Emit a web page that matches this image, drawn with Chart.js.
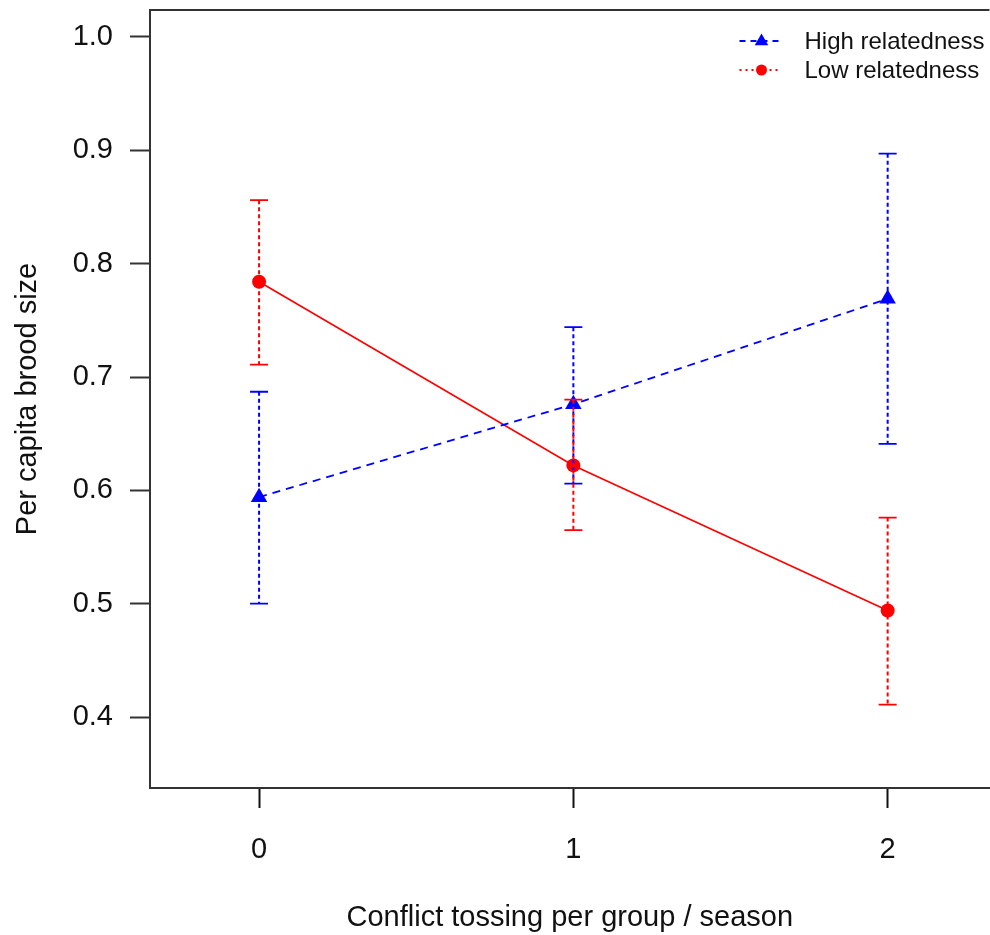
<!DOCTYPE html>
<html>
<head>
<meta charset="utf-8">
<script src="https://cdn.jsdelivr.net/npm/chart.js@4/dist/chart.umd.min.js"></script>
<style>
  html, body { margin: 0; padding: 0; background: #fff; overflow: hidden; }
  #wrap { width: 990px; height: 935px; position: relative; overflow: hidden; }
  #c { display: block; }
</style>
</head>
<body>
<div id="wrap"><canvas id="c" width="999" height="935"></canvas></div>
<script>
// ---- Data ----
const categories = [0, 1, 2];
const xTicks = [0, 1, 2];
const yTicks = [0.4, 0.5, 0.6, 0.7, 0.8, 0.9, 1.0];

const highMean  = [0.594, 0.676, 0.769];
const highLower = [0.500, 0.606, 0.641];
const highUpper = [0.687, 0.744, 0.897];

const lowMean  = [0.784, 0.622, 0.494];
const lowLower = [0.711, 0.565, 0.411];
const lowUpper = [0.856, 0.680, 0.576];

const seriesNames = ['High relatedness', 'Low relatedness'];
const xTitle = 'Conflict tossing per group / season';
const yTitle = 'Per capita brood size';

const BLUE = '#0000FF';
const RED = '#FF0000';
const FONT = '"Liberation Sans", Arial, sans-serif';

const toPts = (arr) => categories.map((c, i) => ({ x: c, y: arr[i] }));

const errorBars = [
  { lower: highLower, upper: highUpper, color: BLUE },
  { lower: lowLower, upper: lowUpper, color: RED }
];

const errorBarPlugin = {
  id: 'errorBars',
  afterDatasetsDraw(chart) {
    const { ctx, scales: { x, y } } = chart;
    ctx.save();
    errorBars.forEach(eb => {
      categories.forEach((c, i) => {
        const px = x.getPixelForValue(c);
        const pl = y.getPixelForValue(eb.lower[i]);
        const pu = y.getPixelForValue(eb.upper[i]);
        ctx.strokeStyle = eb.color;
        ctx.lineWidth = 2;
        ctx.setLineDash([4, 3]);
        ctx.beginPath();
        ctx.moveTo(px, pu);
        ctx.lineTo(px, pl);
        ctx.stroke();
        ctx.setLineDash([]);
        ctx.lineWidth = 1.8;
        ctx.beginPath();
        ctx.moveTo(px - 9, pu); ctx.lineTo(px + 9, pu);
        ctx.moveTo(px - 9, pl); ctx.lineTo(px + 9, pl);
        ctx.stroke();
      });
    });
    ctx.restore();
  }
};

const framePlugin = {
  id: 'frame',
  afterDraw(chart) {
    const { ctx, chartArea } = chart;
    ctx.save();
    ctx.strokeStyle = '#333';
    ctx.lineWidth = 2;
    ctx.beginPath();
    ctx.moveTo(chartArea.left, chartArea.top);
    ctx.lineTo(chartArea.right, chartArea.top);
    ctx.stroke();
    ctx.restore();
  }
};

const legendPlugin = {
  id: 'customLegend',
  afterDraw(chart) {
    const { ctx, chartArea } = chart;
    const ds = chart.data.datasets;
    const lx = chartArea.right - 250;
    const rows = [chartArea.top + 31, chartArea.top + 60];
    ctx.save();
    ds.forEach((d, i) => {
      const yy = rows[i];
      ctx.strokeStyle = d.borderColor;
      ctx.lineWidth = 2;
      ctx.setLineDash(i === 0 ? [6, 5] : [2, 4]);
      ctx.beginPath();
      ctx.moveTo(lx, yy); ctx.lineTo(lx + 42, yy);
      ctx.stroke();
      ctx.setLineDash([]);
      ctx.fillStyle = d.borderColor;
      ctx.beginPath();
      if (i === 0) {
        const r = 7.5;
        ctx.moveTo(lx + 22, yy - r);
        ctx.lineTo(lx + 22 + r * 0.9, yy + r * 0.55);
        ctx.lineTo(lx + 22 - r * 0.9, yy + r * 0.55);
        ctx.closePath();
      } else {
        ctx.arc(lx + 22, yy, 5.5, 0, Math.PI * 2);
      }
      ctx.fill();
      ctx.fillStyle = '#111';
      ctx.font = '24px ' + FONT;
      ctx.textBaseline = 'middle';
      ctx.textAlign = 'left';
      ctx.fillText(seriesNames[i], lx + 65, yy + 1);
    });
    ctx.restore();
  }
};

new Chart(document.getElementById('c'), {
  type: 'line',
  data: {
    datasets: [
      {
        label: seriesNames[0],
        data: toPts(highMean),
        borderColor: BLUE,
        backgroundColor: BLUE,
        borderWidth: 1.8,
        borderDash: [8, 6],
        pointStyle: 'triangle',
        pointRadius: 9.5,
        pointBackgroundColor: BLUE,
        pointBorderWidth: 0,
        tension: 0
      },
      {
        label: seriesNames[1],
        data: toPts(lowMean),
        borderColor: RED,
        backgroundColor: RED,
        borderWidth: 1.6,
        pointStyle: 'circle',
        pointRadius: 7,
        pointBackgroundColor: RED,
        pointBorderWidth: 0,
        tension: 0
      }
    ]
  },
  options: {
    responsive: false,
    animation: false,
    layout: { padding: { top: 10, right: 0, left: 0, bottom: 0 } },
    plugins: { legend: { display: false }, tooltip: { enabled: false } },
    scales: {
      x: {
        type: 'linear',
        min: -0.347,
        max: 2.324,
        afterBuildTicks: (s) => { s.ticks = xTicks.map(v => ({ value: v })); },
        afterFit: (s) => { s.height = 147; s.paddingLeft = 0; s.paddingRight = 0; },
        ticks: { color: '#111', font: { size: 29, family: FONT }, padding: 25, callback: (v) => String(v) },
        grid: { drawOnChartArea: false, drawTicks: true, tickLength: 20, tickColor: '#111', tickWidth: 2 },
        border: { display: true, color: '#333', width: 2 },
        title: { display: true, text: xTitle, color: '#111', font: { size: 29, family: FONT }, padding: { top: 0, bottom: 0 } }
      },
      y: {
        type: 'linear',
        min: 0.3374,
        max: 1.0238,
        afterBuildTicks: (s) => { s.ticks = yTicks.map(v => ({ value: v })); },
        afterFit: (s) => { s.width = 150; s.paddingTop = 0; s.paddingBottom = 0; },
        ticks: { color: '#111', font: { size: 29, family: FONT }, padding: 17, callback: (v) => Number(v).toFixed(1) },
        grid: { drawOnChartArea: false, drawTicks: true, tickLength: 20, tickColor: '#333', tickWidth: 2 },
        border: { display: true, color: '#333', width: 2 },
        title: { display: true, text: yTitle, color: '#111', font: { size: 29, family: FONT }, padding: { top: 11, bottom: 0 } }
      }
    }
  },
  plugins: [errorBarPlugin, framePlugin, legendPlugin]
});
</script>
</body>
</html>
